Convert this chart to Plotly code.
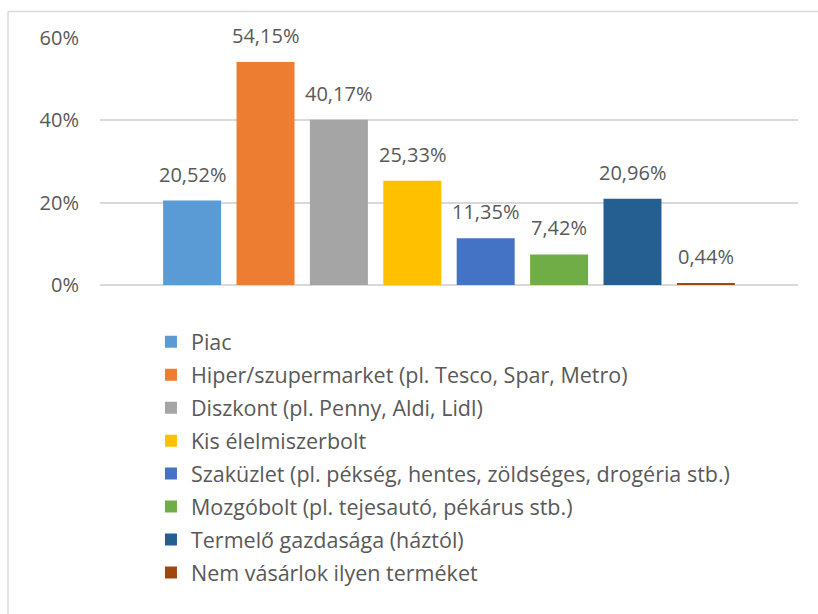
import plotly.graph_objects as go

categories = [
    "Piac",
    "Hiper/szupermarket (pl. Tesco, Spar, Metro)",
    "Diszkont (pl. Penny, Aldi, Lidl)",
    "Kis élelmiszerbolt",
    "Szaküzlet (pl. pékség, hentes, zöldséges, drogéria stb.)",
    "Mozgóbolt (pl. tejesautó, pékárus stb.)",
    "Termelő gazdasága (háztól)",
    "Nem vásárlok ilyen terméket",
]
values = [20.52, 54.15, 40.17, 25.33, 11.35, 7.42, 20.96, 0.44]
colors = ["#5B9BD5", "#ED7D31", "#A5A5A5", "#FFC000", "#4472C4", "#70AD47", "#255E91", "#9E480E"]
tick_vals = [0, 20, 40, 60]
tick_text = ["0%", "20%", "40%", "60%"]

FONT = "Open Sans"
TXT = "#595959"
GRID = "#D9D9D9"

fig = go.Figure()
for i, (name, v, c) in enumerate(zip(categories, values, colors)):
    fig.add_trace(go.Bar(
        x=[i], y=[v], name=name, marker=dict(color=c, line=dict(width=0)),
        width=0.79, legendgroup=f"g{i}", hoverinfo="skip",
    ))
    fig.add_annotation(
        x=i, y=v, text=f"{v:.2f}%".replace(".", ","), showarrow=False,
        yanchor="bottom", yshift=11, font=dict(family=FONT, size=20, color=TXT),
    )

# outer border (left and top edges visible)
bx = (8 - 100) / 698
by = (285 - 12) / 246.5
fig.add_shape(type="line", xref="paper", yref="paper", x0=bx, x1=bx, y0=by, y1=-3,
              line=dict(color=GRID, width=1.5))
fig.add_shape(type="line", xref="paper", yref="paper", x0=bx, x1=2, y0=by, y1=by,
              line=dict(color=GRID, width=1.5))

fig.update_layout(
    width=818, height=614,
    margin=dict(l=100, r=20, t=38, b=329, autoexpand=False),
    paper_bgcolor="white", plot_bgcolor="white",
    barmode="overlay",
    showlegend=True,
    legend=dict(
        x=0.073, xanchor="left", y=-0.147, yanchor="top",
        font=dict(family=FONT, size=21.5, color=TXT),
        tracegroupgap=2, traceorder="grouped",
        bgcolor="rgba(0,0,0,0)",
    ),
    font=dict(family=FONT, color=TXT),
)
fig.update_xaxes(range=[-1.255, 8.255], showticklabels=False, showgrid=False,
                 zeroline=False, showline=False, fixedrange=True, automargin=False)
fig.update_yaxes(range=[0, 60], tickvals=tick_vals, ticktext=tick_text,
                 showgrid=True, gridcolor=GRID, gridwidth=1.5,
                 zeroline=True, zerolinecolor=GRID, zerolinewidth=1.5,
                 showline=False, ticks="", ticklabelstandoff=20, automargin=False,
                 tickfont=dict(family=FONT, size=20, color=TXT))

fig.write_html("out.html", config={"displayModeBar": False},
               post_script="document.body.style.margin='0';")
